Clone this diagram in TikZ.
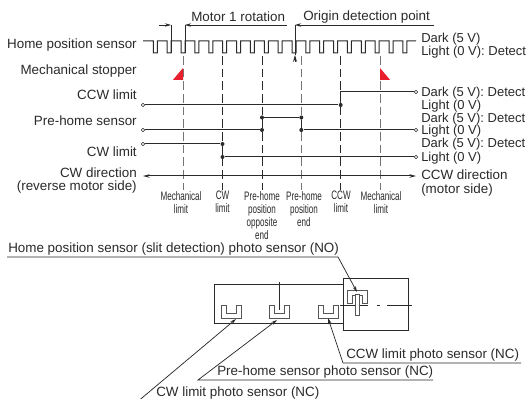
\documentclass[tikz,border=0pt]{standalone}
\usepackage{fontspec}
\setmainfont{Liberation Sans}
\newfontfamily\condf[FakeStretch=0.66]{Liberation Sans}
\usetikzlibrary{arrows.meta}
\definecolor{ink}{HTML}{2A2A2A}
\definecolor{stopred}{HTML}{E8202E}
\tikzset{
  x=0.75pt,y=-0.75pt,
  lbl/.style={inner sep=0pt,font=\fontsize{10.05pt}{11pt}\selectfont,text=ink},
  lblr/.style={lbl,anchor=base east},
  lbll/.style={lbl,anchor=base west},
  lblq/.style={lbl,anchor=base west,font=\fontsize{9.75pt}{11pt}\selectfont},
  small/.style={inner sep=0pt,align=center,anchor=north,font=\condf\fontsize{9.2pt}{9.8pt}\selectfont,text=ink},
  wire/.style={draw=ink,line width=0.75pt},
  thin wire/.style={draw=ink,line width=0.55pt},
  guide/.style={draw=ink,line width=0.6pt,dash pattern=on 6.5pt off 3pt},
  guide gray/.style={guide,draw=ink!65},
  ring/.style={circle,draw=ink,fill=white,line width=0.5pt,inner sep=0pt,minimum size=2.6pt},
  dotn/.style={circle,fill=ink,inner sep=0pt,minimum size=3pt},
  tip/.style={-{Stealth[length=4.5pt,width=2.6pt]}},
  sens/.style={draw=ink!80,line width=0.6pt},
  stopper/.style={fill=stopred,draw=none}
}
\begin{document}
\begin{tikzpicture}
\useasboundingbox (0,0) rectangle (526,399);
\fill[white] (0,0) rectangle (526,399);

% text at left
\node[lblr] (hps) at (137,49) {Home position sensor};
\node[lblr] (ms) at (137,75) {Mechanical stopper};
\node[lblr] (ccw) at (137,100) {CCW limit};
\node[lblr] (pre) at (137,126) {Pre-home sensor};
\node[lblr] (cwl) at (137,157) {CW limit};
\node[lblr] (cwd) at (137,178) {CW direction};
\node[lblr] (cwm) at (137,191) {(reverse motor side)};

% right
\node[lblq] (r1) at (421,43) {Dark (5 V)};
\node[lblq] (r2) at (421,56) {Light (0 V): Detect};
\node[lblq] (r3) at (421,97) {Dark (5 V): Detect};
\node[lblq] (r4) at (421,110) {Light (0 V)};
\node[lblq] (r5) at (421,123) {Dark (5 V): Detect};
\node[lblq] (r6) at (421,135) {Light (0 V)};
\node[lblq] (r7) at (421,148) {Dark (5 V): Detect};
\node[lblq] (r8) at (421,162) {Light (0 V)};
\node[lbll] (cd1) at (421,180) {CCW direction};
\node[lbll] (cd2) at (421,193.5) {(motor side)};

% top labels
\node[lbll] (mot) at (191,22) {Motor 1 rotation};
\node[lbll] (ori) at (303,21) {Origin detection point};

% pulse train
\draw[wire] (143,41) -- (153.3,41)
  \foreach \k in {0,...,17}{
    -- ({153.3+13.87*\k},53) -- ({157.3+13.87*\k},53) -- ({157.3+13.87*\k},41) -- ({167.17+13.87*\k},41)
  }
  -- (402.9,53) -- (406.9,53) -- (406.9,41) -- (416,41);

% guides
\coordinate (g1t) at (183,56); \coordinate (g1b) at (183,190);
\coordinate (g2t) at (222.5,56); \coordinate (g2b) at (222.5,190);
\coordinate (g3t) at (262,56); \coordinate (g3b) at (262,190);
\coordinate (g4t) at (301.3,56); \coordinate (g4b) at (301.3,190);
\coordinate (g5t) at (340.7,56); \coordinate (g5b) at (340.7,190);
\coordinate (g6t) at (380,56); \coordinate (g6b) at (380,190);
\foreach \n in {2,3,5}{\draw[guide] (g\n t) -- (g\n b);}
\foreach \n in {1,4,6}{\draw[guide gray] (g\n t) -- (g\n b);}

% stoppers
\fill[stopper] (173,79.8) -- (183,68) -- (183,79.8) -- cycle;
\fill[stopper] (380,68) -- (390,79.8) -- (380,79.8) -- cycle;

% motor rotation
\coordinate (m1) at (159,25);
\coordinate (m2) at (171,25);
\coordinate (m3) at (185,25);
\coordinate (m4) at (287,25);
\draw[thin wire,tip] (m1) -- (m2);
\draw[thin wire,tip] (m4) -- (m3);
\draw[thin wire] (m2) -- (171,53);
\draw[thin wire] (m3) -- (185,53);

% origin
\coordinate (o1) at (434,25);
\coordinate (o2) at (295,25);
\coordinate (o3) at (295,62);
\draw[thin wire,tip] (o1) -- (o2);
\draw[thin wire] (o2) -- (295,55);
\draw[thin wire,-{Stealth[length=5.2pt,width=3pt]}] (o3) -- (295,55);

% signals
\node[ring] (c1) at (143,105) {};
\node[dotn] (c2) at (340.7,105) {};
\node[ring] (c3) at (416,92) {};
\draw[wire] (c1) -- (c2) -- (340.7,92) -- (c3);

\node[ring] (p1) at (143,130) {};
\node[dotn] (p2) at (262,130) {};
\node[dotn] (p3) at (262,117.5) {};
\node[dotn] (p4) at (301.3,117.5) {};
\node[dotn] (p5) at (301.3,130) {};
\node[ring] (p6) at (416,130) {};
\draw[wire] (p1) -- (p2) -- (p3) -- (p4) -- (p5) -- (p6);

\node[ring] (w1) at (143,144) {};
\node[dotn] (w2) at (222.5,144) {};
\node[dotn] (w3) at (222.5,157) {};
\node[ring] (w4) at (416,157) {};
\draw[wire] (w1) -- (w2) -- (w3) -- (w4);

\coordinate (d0) at (143,176);
\coordinate (d1) at (416,176);
\draw[wire,{Stealth[length=5pt,width=2.6pt]}-{Stealth[length=5pt,width=2.6pt]}] (d0) -- (d1);

% small labels
\node[small] (s1) at (181,191) {Mechanical\\limit};
\node[small] (s2) at (222.5,191) {CW\\limit};
\node[small] (s3) at (262,191) {Pre-home\\position\\opposite\\end};
\node[small] (s4) at (304,191) {Pre-home\\position\\end};
\node[small] (s5) at (341,191) {CCW\\limit};
\node[small] (s6) at (381,191) {Mechanical\\limit};

% bottom drawing
\draw[wire] (214,285) rectangle (343,324);
\draw[wire,fill=white] (343,279) rectangle (408,331);
\draw[wire] (279,282) -- (279,310);
\draw[thin wire] (340,305) -- (368,305) (377,305) -- (379.5,305) (387,305) -- (412,305);

\foreach \x/\n in {221/a,269/b,318/c}{
  \draw[sens] (\x,305) -- (\x,318) -- (\x+20,318) -- (\x+20,305) -- (\x+15,305) -- (\x+15,313) -- (\x+5,313) -- (\x+5,305) -- cycle;
}
\draw[sens] (347,303) -- (347,290) -- (367,290) -- (367,303) -- (362,303) -- (362,295) -- (352,295) -- (352,303) -- cycle;
\draw[sens,fill=white] (355,294) rectangle (359.5,315);

% leader labels
\node[lbll] (t1) at (8,253) {Home position sensor (slit detection) photo sensor (NO)};
\node[lbll] (t2) at (346,358.5) {CCW limit photo sensor (NC)};
\node[lbll] (t3) at (217,376) {Pre-home sensor photo sensor (NC)};
\node[lbll] (t4) at (156,396.5) {CW limit photo sensor (NC)};

% leaders
\coordinate (h0) at (7,257); \coordinate (h1) at (338,257); \coordinate (h2) at (357,292);
\draw[thin wire,tip] (h0) -- (h1) -- (h2);
\coordinate (k0) at (521,363); \coordinate (k1) at (343,363); \coordinate (k2) at (328,318);
\draw[thin wire,tip] (k0) -- (k1) -- (k2);
\coordinate (q0) at (433,380); \coordinate (q1) at (198,380); \coordinate (q2) at (277,320);
\draw[thin wire,tip] (q0) -- (q1) -- (q2);
\coordinate (z1) at (140.7,399); \coordinate (z2) at (236,319);
\draw[thin wire,tip] (z1) -- (z2);
\end{tikzpicture}
\end{document}
